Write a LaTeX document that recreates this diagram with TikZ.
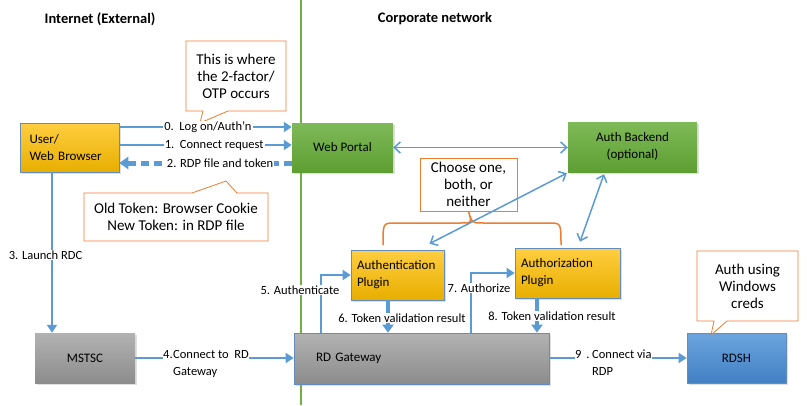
\documentclass[tikz,border=0pt]{standalone}
\usepackage{fontspec}
\setmainfont{Carlito}
\usetikzlibrary{arrows.meta,shadows}
\definecolor{linkblue}{RGB}{91,155,213}
\definecolor{callorange}{RGB}{237,125,49}
\definecolor{divgreen}{RGB}{112,173,71}
\definecolor{goldtop}{RGB}{255,206,64}
\definecolor{goldbot}{RGB}{232,174,0}
\definecolor{greentop}{RGB}{126,186,88}
\definecolor{greenbot}{RGB}{94,158,50}
\definecolor{graytop}{RGB}{178,178,178}
\definecolor{graybot}{RGB}{140,140,140}
\definecolor{bluetop}{RGB}{108,165,222}
\definecolor{bluebot}{RGB}{66,128,196}
\definecolor{boxedge}{RGB}{100,140,190}
\begin{document}
\begin{tikzpicture}[x=1pt,y=-1pt,
  box/.style={inner sep=0pt, text=black, font=\fontsize{13}{17}\selectfont,
    drop shadow={shadow xshift=1.5pt,shadow yshift=-1.5pt,opacity=0.25}},
  goldbox/.style={box, top color=goldtop, bottom color=goldbot, draw=boxedge, line width=0.6pt},
  greenbox/.style={box, top color=greentop, bottom color=greenbot},
  graybox/.style={box, top color=graytop, bottom color=graybot},
  bluebox/.style={box, top color=bluetop, bottom color=bluebot, draw=boxedge, line width=0.6pt},
  conn/.style={draw=linkblue, line width=1.8pt, -{Triangle[length=8pt,width=10pt]}},
  thickconn/.style={draw=linkblue, line width=3.5pt, -{Triangle[length=8pt,width=11pt]}},
  twoway/.style={draw=linkblue, line width=1.5pt, {Straight Barb[length=6pt,width=11pt]}-{Straight Barb[length=6pt,width=11pt]}},
  lbl/.style={fill=white, inner sep=1pt, text=black, font=\fontsize{12.5}{17}\selectfont},
  callout/.style={draw=callorange, line width=0.8pt, fill=white},
  calltext/.style={text=black, font=\fontsize{15}{17}\selectfont, align=center},
  title/.style={text=black, font=\fontsize{14.5}{17}\selectfont\bfseries}
]
\useasboundingbox (0,0) rectangle (807,405);

% divider
\draw[divgreen, line width=1.6pt] (301,0) -- (301,405);
\node[title] (tint) at (100,19) {Internet (External)};
\node[title] (tcorp) at (435,19) {Corporate network};

% boxes
\node[goldbox, minimum width=99pt, minimum height=49pt, align=left, text width=80pt] (browser) at (69.5,147.5) {User/\\Web Browser};
\node[greenbox, minimum width=101pt, minimum height=49pt] (portal) at (342.5,147.5) {Web Portal};
\node[greenbox, minimum width=129pt, minimum height=50pt, align=center] (backend) at (632.5,147) {Auth Backend\\(optional)};
\node[goldbox, minimum width=93pt, minimum height=50pt, align=left, text width=81pt] (authn) at (397.5,275) {Authentication\\Plugin};
\node[goldbox, minimum width=105pt, minimum height=50pt, align=left, text width=93pt] (authz) at (567.5,273) {Authorization\\Plugin};
\node[graybox, draw=boxedge, line width=0.6pt, minimum width=255pt, minimum height=51pt, align=left, text width=211pt] (gw) at (421.5,358.5) {RD Gateway};
\node[graybox, minimum width=100pt, minimum height=50pt] (mstsc) at (85,358) {MSTSC};
\node[bluebox, minimum width=99pt, minimum height=50pt] (rdsh) at (736.5,358) {RDSH};

% callouts
\draw[callout] (186,41) -- (286,41) -- (286,111) -- (228,111) -- (200,123) -- (203,111) -- (186,111) -- cycle;
\node[calltext] (c1) at (236,76) {This is where\\the 2-factor/\\OTP occurs};
\draw[callout] (84,193) -- (192,193) -- (226,181) -- (237,193) -- (268,193) -- (268,241) -- (84,241) -- cycle;
\node[calltext] (c2) at (176,217) {Old Token: Browser Cookie\\New Token: in RDP file};
\draw[callout] (697,251) -- (798,251) -- (798,321) -- (727,321) -- (711,335) -- (714,321) -- (697,321) -- cycle;
\node[calltext] (c3) at (747.5,286) {Auth using\\Windows\\creds};
\node[callout, calltext, minimum width=97pt, minimum height=53pt, inner sep=0pt] (choose) at (468.5,184.5) {Choose one,\\both, or\\neither};
\draw[callorange, line width=1.5pt] (383,245) .. controls (383,223) .. (395,223) -- (460,223) .. controls (472,223) .. (choose.south)
  (choose.south) .. controls (472,223) .. (484,223) -- (549,223) .. controls (561,223) .. (561,245);

% connectors top
\draw[conn] ([yshift=20.5pt]browser.east) -- ([yshift=20.5pt]portal.west)
  node[lbl, pos=0.514] {0.\ \ Log on/Auth’n};
\draw[conn] ([yshift=2.5pt]browser.east) -- ([yshift=2.5pt]portal.west)
  node[lbl, pos=0.55] {1.\ \ Connect request};
\draw[draw=linkblue, line width=5pt, dash pattern=on 8pt off 5pt, -{Triangle[length=9pt,width=12pt]}]
  ([yshift=-15.5pt]portal.west) -- ([yshift=-15.5pt]browser.east)
  node[lbl, pos=0.416] {2. RDP file and token};
\draw[twoway] (portal.east) -- (portal.east -| backend.west);
\draw[twoway] ([xshift=32pt,yshift=6pt]authn.north) -- ([xshift=-1pt,yshift=-1pt]backend.south west);
\draw[twoway] ([xshift=12.5pt,yshift=6pt]authz.north) -- ([xshift=-28.5pt,yshift=-2pt]backend.south);

% launch
\draw[conn] ([xshift=-17.5pt]browser.south) -- ([xshift=-33pt]mstsc.north);
\node[lbl] (l3) at (45.5,255) {3. Launch RDC};
\draw[conn] (mstsc.east) -- (mstsc.east -| gw.west);
\node[lbl, anchor=north west, align=left, inner sep=0pt] (l4) at (163,350) {\makebox[10pt][l]{4.}Connect to\ \ RD\\\hspace*{10pt}Gateway};

\draw[conn] ([xshift=-100.5pt]gw.north) |- (authn.west);
\node[lbl] (l5) at (300,290) {5. Authenticate};
\draw[thickconn] ([xshift=-9.5pt]authn.south) -- ([xshift=-9.5pt]authn.south |- gw.north);
\node[lbl] (l6) at (402,318) {6. Token validation result};

\draw[conn] ([xshift=49.5pt]gw.north) |- (authz.west);
\node[lbl] (l7) at (479,288) {7. Authorize};
\draw[thickconn] ([xshift=-30.5pt]authz.south) -- ([xshift=-30.5pt]authz.south |- gw.north);
\node[lbl] (l8) at (552,316) {8. Token validation result};

\draw[conn] (gw.east |- rdsh.west) -- (rdsh.west);
\node[lbl, anchor=north west, align=left, inner sep=0pt] (l9) at (575,350) {\makebox[17pt][l]{9\ \,.}Connect via\\\hspace*{17pt}RDP};
\end{tikzpicture}
\end{document}
